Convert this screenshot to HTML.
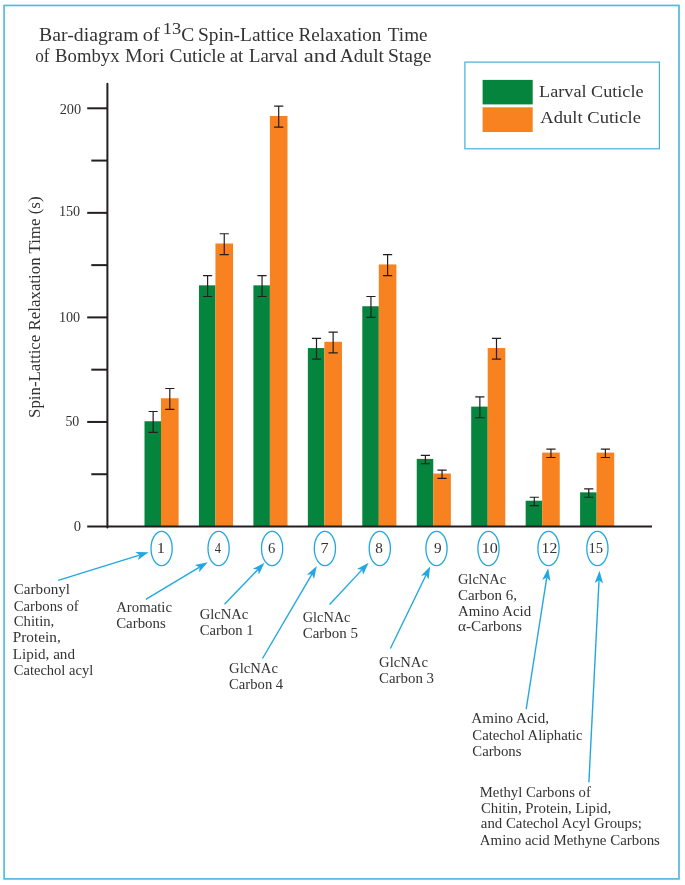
<!DOCTYPE html>
<html><head><meta charset="utf-8"><title>Bar-diagram of 13C Spin-Lattice Relaxation Time</title>
<style>html,body{margin:0;padding:0;background:#fff;width:685px;height:885px;overflow:hidden}svg{display:block;will-change:transform}text{font-family:"Liberation Serif",serif}</style>
</head><body><svg width="685" height="885" viewBox="0 0 685 885"><rect x="0" y="0" width="685" height="885" fill="#fff"/><rect x="4.1" y="5.45" width="674.9" height="873.45" fill="none" stroke="#55b9e0" stroke-width="1.7"/><rect x="464.9" y="62.1" width="194.5" height="86.7" fill="none" stroke="#45afde" stroke-width="1.2"/><rect x="482.6" y="79.9" width="50.1" height="24.5" fill="#05843d"/><rect x="482.6" y="107.3" width="50.1" height="24.7" fill="#f7821f"/><ellipse cx="161.6" cy="548.5" rx="10.6" ry="17.1" fill="none" stroke="#22a8e0" stroke-width="1.3"/><ellipse cx="218.6" cy="548.5" rx="10.6" ry="17.1" fill="none" stroke="#22a8e0" stroke-width="1.3"/><ellipse cx="272.1" cy="548.5" rx="10.6" ry="17.1" fill="none" stroke="#22a8e0" stroke-width="1.3"/><ellipse cx="324.9" cy="548.5" rx="10.6" ry="17.1" fill="none" stroke="#22a8e0" stroke-width="1.3"/><ellipse cx="379.8" cy="548.5" rx="10.6" ry="17.1" fill="none" stroke="#22a8e0" stroke-width="1.3"/><ellipse cx="436.5" cy="548.5" rx="10.6" ry="17.1" fill="none" stroke="#22a8e0" stroke-width="1.3"/><ellipse cx="488.5" cy="548.5" rx="10.6" ry="17.1" fill="none" stroke="#22a8e0" stroke-width="1.3"/><ellipse cx="548.5" cy="548.5" rx="10.6" ry="17.1" fill="none" stroke="#22a8e0" stroke-width="1.3"/><ellipse cx="597.4" cy="548.5" rx="10.6" ry="17.1" fill="none" stroke="#22a8e0" stroke-width="1.3"/><line x1="58.20" y1="580.30" x2="139.53" y2="555.11" stroke="#22a8e0" stroke-width="1.4"/><path d="M148.60,552.30 L137.90,560.01 L139.53,555.11 L135.42,551.99 Z" fill="#22a8e0"/><line x1="145.80" y1="599.40" x2="199.55" y2="567.18" stroke="#22a8e0" stroke-width="1.4"/><path d="M207.70,562.30 L199.14,572.33 L199.55,567.18 L194.82,565.12 Z" fill="#22a8e0"/><line x1="224.50" y1="604.30" x2="257.92" y2="569.55" stroke="#22a8e0" stroke-width="1.4"/><path d="M264.50,562.70 L258.86,574.62 L257.92,569.55 L252.81,568.80 Z" fill="#22a8e0"/><line x1="262.50" y1="658.50" x2="311.99" y2="574.19" stroke="#22a8e0" stroke-width="1.4"/><path d="M316.80,566.00 L314.09,578.91 L311.99,574.19 L306.85,574.65 Z" fill="#22a8e0"/><line x1="329.60" y1="604.40" x2="362.11" y2="569.64" stroke="#22a8e0" stroke-width="1.4"/><path d="M368.60,562.70 L363.13,574.70 L362.11,569.64 L356.99,568.96 Z" fill="#22a8e0"/><line x1="390.40" y1="648.50" x2="426.06" y2="574.95" stroke="#22a8e0" stroke-width="1.4"/><path d="M430.20,566.40 L428.53,579.48 L426.06,574.95 L420.97,575.82 Z" fill="#22a8e0"/><line x1="526.20" y1="709.20" x2="546.74" y2="577.59" stroke="#22a8e0" stroke-width="1.4"/><path d="M548.20,568.20 L550.42,581.20 L546.74,577.59 L542.12,579.90 Z" fill="#22a8e0"/><line x1="588.90" y1="782.20" x2="599.02" y2="580.29" stroke="#22a8e0" stroke-width="1.4"/><path d="M599.50,570.80 L603.07,583.49 L599.02,580.29 L594.68,583.07 Z" fill="#22a8e0"/><rect x="144.50" y="421.25" width="16.5" height="105.25" fill="#05843d"/><rect x="161.00" y="398.25" width="17.6" height="128.25" fill="#f7821f"/><path d="M153.15,411.50V432.40M148.55,411.50H157.75M148.55,432.40H157.75" stroke="#231f20" stroke-width="1.2" fill="none"/><path d="M169.80,388.49V409.40M165.20,388.49H174.40M165.20,409.40H174.40" stroke="#231f20" stroke-width="1.2" fill="none"/><rect x="198.95" y="285.33" width="16.5" height="241.17" fill="#05843d"/><rect x="215.45" y="243.51" width="17.6" height="282.99" fill="#f7821f"/><path d="M207.60,275.58V296.49M203.00,275.58H212.20M203.00,296.49H212.20" stroke="#231f20" stroke-width="1.2" fill="none"/><path d="M224.25,233.76V254.67M219.65,233.76H228.85M219.65,254.67H228.85" stroke="#231f20" stroke-width="1.2" fill="none"/><rect x="253.40" y="285.33" width="16.5" height="241.17" fill="#05843d"/><rect x="269.90" y="115.96" width="17.6" height="410.54" fill="#f7821f"/><path d="M262.05,275.58V296.49M257.45,275.58H266.65M257.45,296.49H266.65" stroke="#231f20" stroke-width="1.2" fill="none"/><path d="M278.70,106.21V127.12M274.10,106.21H283.30M274.10,127.12H283.30" stroke="#231f20" stroke-width="1.2" fill="none"/><rect x="307.85" y="348.06" width="16.5" height="178.44" fill="#05843d"/><rect x="324.35" y="341.79" width="17.6" height="184.71" fill="#f7821f"/><path d="M316.50,338.31V359.22M311.90,338.31H321.10M311.90,359.22H321.10" stroke="#231f20" stroke-width="1.2" fill="none"/><path d="M333.15,332.04V352.95M328.55,332.04H337.75M328.55,352.95H337.75" stroke="#231f20" stroke-width="1.2" fill="none"/><rect x="362.30" y="306.25" width="16.5" height="220.25" fill="#05843d"/><rect x="378.80" y="264.43" width="17.6" height="262.07" fill="#f7821f"/><path d="M370.95,296.49V317.40M366.35,296.49H375.55M366.35,317.40H375.55" stroke="#231f20" stroke-width="1.2" fill="none"/><path d="M387.60,254.67V275.58M383.00,254.67H392.20M383.00,275.58H392.20" stroke="#231f20" stroke-width="1.2" fill="none"/><rect x="416.75" y="458.89" width="16.5" height="67.61" fill="#05843d"/><rect x="433.25" y="473.53" width="17.6" height="52.97" fill="#f7821f"/><path d="M425.40,455.41V463.77M420.80,455.41H430.00M420.80,463.77H430.00" stroke="#231f20" stroke-width="1.2" fill="none"/><path d="M442.05,470.04V478.41M437.45,470.04H446.65M437.45,478.41H446.65" stroke="#231f20" stroke-width="1.2" fill="none"/><rect x="471.20" y="406.61" width="16.5" height="119.89" fill="#05843d"/><rect x="487.70" y="348.06" width="17.6" height="178.44" fill="#f7821f"/><path d="M479.85,396.86V417.77M475.25,396.86H484.45M475.25,417.77H484.45" stroke="#231f20" stroke-width="1.2" fill="none"/><path d="M496.50,338.31V359.22M491.90,338.31H501.10M491.90,359.22H501.10" stroke="#231f20" stroke-width="1.2" fill="none"/><rect x="525.65" y="500.71" width="16.5" height="25.79" fill="#05843d"/><rect x="542.15" y="452.62" width="17.6" height="73.89" fill="#f7821f"/><path d="M534.30,497.23V505.59M529.70,497.23H538.90M529.70,505.59H538.90" stroke="#231f20" stroke-width="1.2" fill="none"/><path d="M550.95,449.13V457.50M546.35,449.13H555.55M546.35,457.50H555.55" stroke="#231f20" stroke-width="1.2" fill="none"/><rect x="580.10" y="492.34" width="16.5" height="34.16" fill="#05843d"/><rect x="596.60" y="452.62" width="17.6" height="73.89" fill="#f7821f"/><path d="M588.75,488.86V497.23M584.15,488.86H593.35M584.15,497.23H593.35" stroke="#231f20" stroke-width="1.2" fill="none"/><path d="M605.40,449.13V457.50M600.80,449.13H610.00M600.80,457.50H610.00" stroke="#231f20" stroke-width="1.2" fill="none"/><path d="M107.4,83.8V527.5" stroke="#231f20" stroke-width="2" stroke-linecap="round" fill="none"/><path d="M87.2,526.5H652" stroke="#231f20" stroke-width="2" fill="none"/><path d="M87.2,108.30H107" stroke="#231f20" stroke-width="2" fill="none"/><path d="M87.2,212.85H107" stroke="#231f20" stroke-width="2" fill="none"/><path d="M87.2,317.40H107" stroke="#231f20" stroke-width="2" fill="none"/><path d="M87.2,421.95H107" stroke="#231f20" stroke-width="2" fill="none"/><path d="M91.3,160.57H107" stroke="#231f20" stroke-width="2" fill="none"/><path d="M91.3,265.12H107" stroke="#231f20" stroke-width="2" fill="none"/><path d="M91.3,369.67H107" stroke="#231f20" stroke-width="2" fill="none"/><path d="M91.3,474.23H107" stroke="#231f20" stroke-width="2" fill="none"/><g font-family="Liberation Serif, serif" fill="#333333"><text transform="translate(39.9,418.0) rotate(-90)" x="0" y="0" font-size="17.5" textLength="221.5" lengthAdjust="spacingAndGlyphs">Spin-Lattice Relaxation Time (s)</text><text x="13.80" y="594.40" font-size="14.2" textLength="56.20" lengthAdjust="spacingAndGlyphs">Carbonyl</text><text x="13.80" y="610.50" font-size="14.2" textLength="64.90" lengthAdjust="spacingAndGlyphs">Carbons of</text><text x="13.80" y="626.40" font-size="14.2" textLength="40.50" lengthAdjust="spacingAndGlyphs">Chitin,</text><text x="12.80" y="642.40" font-size="14.2" textLength="47.90" lengthAdjust="spacingAndGlyphs">Protein,</text><text x="12.80" y="658.50" font-size="14.2" textLength="62.20" lengthAdjust="spacingAndGlyphs">Lipid, and</text><text x="13.80" y="674.70" font-size="14.2" textLength="79.40" lengthAdjust="spacingAndGlyphs">Catechol acyl</text><text x="116.20" y="611.90" font-size="14.2" textLength="55.80" lengthAdjust="spacingAndGlyphs">Aromatic</text><text x="116.20" y="627.60" font-size="14.2" textLength="49.50" lengthAdjust="spacingAndGlyphs">Carbons</text><text x="199.70" y="618.60" font-size="14.2" textLength="48.60" lengthAdjust="spacingAndGlyphs">GlcNAc</text><text x="199.70" y="634.60" font-size="14.2" textLength="53.90" lengthAdjust="spacingAndGlyphs">Carbon 1</text><text x="229.10" y="673.00" font-size="14.2" textLength="48.80" lengthAdjust="spacingAndGlyphs">GlcNAc</text><text x="229.10" y="688.60" font-size="14.2" textLength="54.10" lengthAdjust="spacingAndGlyphs">Carbon 4</text><text x="302.70" y="621.80" font-size="14.2" textLength="47.80" lengthAdjust="spacingAndGlyphs">GlcNAc</text><text x="302.70" y="637.60" font-size="14.2" textLength="55.20" lengthAdjust="spacingAndGlyphs">Carbon 5</text><text x="379.10" y="666.80" font-size="14.2" textLength="48.80" lengthAdjust="spacingAndGlyphs">GlcNAc</text><text x="379.10" y="682.60" font-size="14.2" textLength="54.90" lengthAdjust="spacingAndGlyphs">Carbon 3</text><text x="457.90" y="583.50" font-size="14.2" textLength="48.30" lengthAdjust="spacingAndGlyphs">GlcNAc</text><text x="457.90" y="599.50" font-size="14.2" textLength="59.10" lengthAdjust="spacingAndGlyphs">Carbon 6,</text><text x="457.90" y="615.60" font-size="14.2" textLength="73.20" lengthAdjust="spacingAndGlyphs">Amino Acid</text><text x="457.90" y="631.10" font-size="14.2" textLength="64.00" lengthAdjust="spacingAndGlyphs">α-Carbons</text><text x="471.30" y="723.40" font-size="14.2" textLength="77.80" lengthAdjust="spacingAndGlyphs">Amino Acid,</text><text x="472.30" y="739.50" font-size="14.2" textLength="110.20" lengthAdjust="spacingAndGlyphs">Catechol Aliphatic</text><text x="472.30" y="755.70" font-size="14.2" textLength="49.20" lengthAdjust="spacingAndGlyphs">Carbons</text><text x="479.80" y="796.60" font-size="14.2" textLength="111.00" lengthAdjust="spacingAndGlyphs">Methyl Carbons of</text><text x="481.00" y="812.50" font-size="14.2" textLength="130.20" lengthAdjust="spacingAndGlyphs">Chitin, Protein, Lipid,</text><text x="480.80" y="828.40" font-size="14.2" textLength="161.00" lengthAdjust="spacingAndGlyphs">and Catechol Acyl Groups;</text><text x="479.80" y="844.50" font-size="14.2" textLength="180.10" lengthAdjust="spacingAndGlyphs">Amino acid Methyne Carbons</text><text x="539.10" y="97.00" font-size="17.6" textLength="104.40" lengthAdjust="spacingAndGlyphs">Larval Cuticle</text><text x="540.30" y="123.30" font-size="17.6" textLength="100.60" lengthAdjust="spacingAndGlyphs">Adult Cuticle</text><text x="59.70" y="113.50" font-size="15.0" textLength="21.50" lengthAdjust="spacingAndGlyphs">200</text><text x="58.90" y="216.30" font-size="15.0" textLength="21.30" lengthAdjust="spacingAndGlyphs">150</text><text x="58.90" y="321.60" font-size="15.0" textLength="21.30" lengthAdjust="spacingAndGlyphs">100</text><text x="65.40" y="426.20" font-size="15.0" textLength="13.90" lengthAdjust="spacingAndGlyphs">50</text><text x="73.70" y="531.20" font-size="15.0" textLength="7.30" lengthAdjust="spacingAndGlyphs">0</text><text x="156.80" y="552.90" font-size="14.6" textLength="8.20" lengthAdjust="spacingAndGlyphs">1</text><text x="214.80" y="552.90" font-size="14.6" textLength="6.30" lengthAdjust="spacingAndGlyphs">4</text><text x="268.00" y="552.90" font-size="14.6" textLength="7.30" lengthAdjust="spacingAndGlyphs">6</text><text x="320.50" y="552.90" font-size="14.6" textLength="8.10" lengthAdjust="spacingAndGlyphs">7</text><text x="375.20" y="552.90" font-size="14.6" textLength="7.60" lengthAdjust="spacingAndGlyphs">8</text><text x="434.00" y="552.90" font-size="14.6" textLength="7.60" lengthAdjust="spacingAndGlyphs">9</text><text x="481.80" y="552.90" font-size="14.6" textLength="16.10" lengthAdjust="spacingAndGlyphs">10</text><text x="541.60" y="552.90" font-size="14.6" textLength="15.80" lengthAdjust="spacingAndGlyphs">12</text><text x="588.50" y="552.90" font-size="14.6" textLength="14.60" lengthAdjust="spacingAndGlyphs">15</text><text x="39.10" y="41.00" font-size="18.2" textLength="99.40" lengthAdjust="spacingAndGlyphs">Bar-diagram</text><text x="142.80" y="41.00" font-size="18.2" textLength="17.10" lengthAdjust="spacingAndGlyphs">of</text><text x="181.30" y="41.00" font-size="18.2" textLength="13.00" lengthAdjust="spacingAndGlyphs">C</text><text x="198.00" y="41.00" font-size="18.2" textLength="95.90" lengthAdjust="spacingAndGlyphs">Spin-Lattice</text><text x="298.40" y="41.00" font-size="18.2" textLength="83.00" lengthAdjust="spacingAndGlyphs">Relaxation</text><text x="387.80" y="41.00" font-size="18.2" textLength="39.80" lengthAdjust="spacingAndGlyphs">Time</text><text x="162.80" y="33.70" font-size="16.5" textLength="18.50" lengthAdjust="spacingAndGlyphs">13</text><text x="35.20" y="62.40" font-size="18.2" textLength="14.30" lengthAdjust="spacingAndGlyphs">of</text><text x="55.10" y="62.40" font-size="18.2" textLength="64.40" lengthAdjust="spacingAndGlyphs">Bombyx</text><text x="124.90" y="62.40" font-size="18.2" textLength="39.50" lengthAdjust="spacingAndGlyphs">Mori</text><text x="169.50" y="62.40" font-size="18.2" textLength="55.80" lengthAdjust="spacingAndGlyphs">Cuticle</text><text x="229.70" y="62.40" font-size="18.2" textLength="13.70" lengthAdjust="spacingAndGlyphs">at</text><text x="249.10" y="62.40" font-size="18.2" textLength="48.90" lengthAdjust="spacingAndGlyphs">Larval</text><text x="303.80" y="62.40" font-size="18.2" textLength="32.70" lengthAdjust="spacingAndGlyphs">and</text><text x="339.80" y="62.40" font-size="18.2" textLength="44.10" lengthAdjust="spacingAndGlyphs">Adult</text><text x="387.90" y="62.40" font-size="18.2" textLength="43.60" lengthAdjust="spacingAndGlyphs">Stage</text></g></svg></body></html>
